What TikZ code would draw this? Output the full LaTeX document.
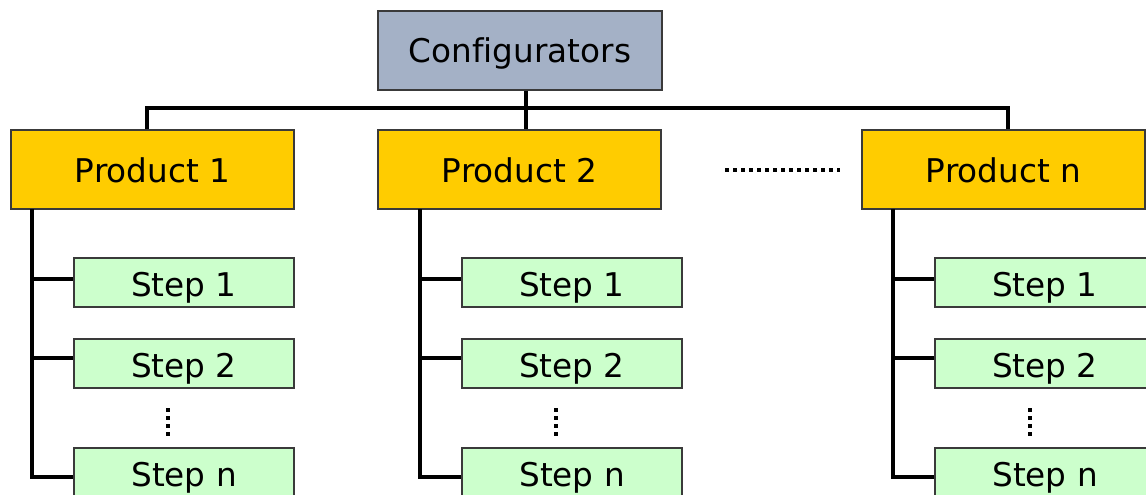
\documentclass[tikz,border=0pt]{standalone}
\usepackage{fontspec}
\setmainfont[Ligatures=NoCommon]{DejaVu Sans}
\definecolor{confc}{HTML}{A4B1C6}
\definecolor{prodc}{HTML}{FFCC00}
\definecolor{stepc}{HTML}{CCFFCC}
\definecolor{edgec}{HTML}{3A3A3A}
\begin{document}
\begin{tikzpicture}[x=0.75pt,y=-0.75pt,
  box/.style={draw=edgec,line width=1.1pt,inner sep=0pt,text depth=0pt,font=\fontsize{24.5}{29}\selectfont},
  confbox/.style={box,fill=confc,minimum width=213pt,minimum height=59.25pt,text height=18.6pt},
  prodbox/.style={box,fill=prodc,minimum width=212.25pt,minimum height=59.25pt,text height=19.4pt},
  stepbox/.style={box,fill=stepc,minimum width=165pt,minimum height=36.75pt,text height=20.6pt},
  conn/.style={line width=2.5pt,black},
  hdots/.style={line width=2.6pt,black,dash pattern=on 3pt off 3pt},
  vdots/.style={line width=3.2pt,black,dash pattern=on 3pt off 3pt}]
\useasboundingbox (0,0) rectangle (1146,494);
\clip (0,0) rectangle (1146,494);
% coordinates of bus / trunks
\coordinate (b1) at (147,108);
\coordinate (b2) at (526,108);
\coordinate (bn) at (1008,108);
\node[confbox] (conf) at (520,50.5) {Configurators};
\node[prodbox] (p1) at (152.5,169.5) {Product 1};
\node[prodbox] (p2) at (519.5,169.5) {Product 2};
\node[prodbox] (pn) at (1003.5,169.5) {Product n};
\node[stepbox] (s11) at (184,282.5) {Step 1};
\node[stepbox] (s12) at (184,363.5) {Step 2};
\node[stepbox] (s1n) at (184,472.5) {Step n};
\node[stepbox] (s21) at (572,282.5) {Step 1};
\node[stepbox] (s22) at (572,363.5) {Step 2};
\node[stepbox] (s2n) at (572,472.5) {Step n};
\node[stepbox] (sn1) at (1045,282.5) {Step 1};
\node[stepbox] (sn2) at (1045,363.5) {Step 2};
\node[stepbox] (snn) at (1045,472.5) {Step n};
\coordinate (t1) at (32,209);
\coordinate (t2) at (420,209);
\coordinate (tn) at (893,209);
% bus
\draw[conn] (conf.south -| b2) -- (p2.north -| b2);
\draw[conn] (p1.north -| b1) |- (bn) -- (pn.north -| bn);
% trunks
\foreach \t/\a/\b/\c in {t1/s11/s12/s1n, t2/s21/s22/s2n, tn/sn1/sn2/snn}{
  \coordinate (ea) at ([yshift=2.6pt]\a.west);
  \coordinate (eb) at ([yshift=4.1pt]\b.west);
  \coordinate (ec) at ([yshift=-3.4pt]\c.west);
  \draw[conn] (\t) |- (ec);
  \draw[conn] (ea -| \t) -- (ea);
  \draw[conn] (eb -| \t) -- (eb);
}
% dots
\draw[hdots] (725,170) -- (840,170);
\draw[vdots] (168,408) -- (168,438);
\draw[vdots] (556,408) -- (556,438);
\draw[vdots] (1030,408) -- (1030,438);
\end{tikzpicture}
\end{document}
